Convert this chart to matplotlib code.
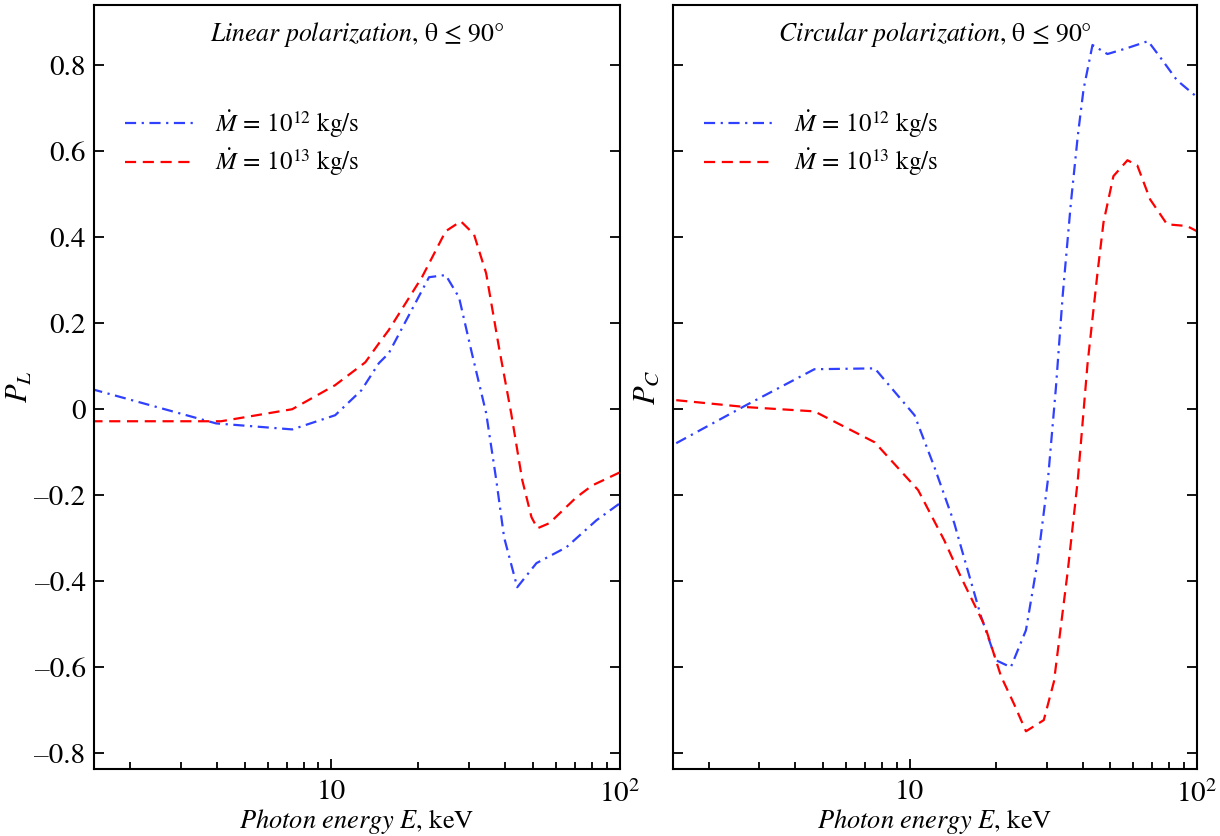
import matplotlib
matplotlib.use('Agg')
import matplotlib.pyplot as plt
import numpy as np
from matplotlib.ticker import FixedLocator, FuncFormatter, LogLocator, NullFormatter

plt.rcParams['font.family'] = ['STIXGeneral', 'DejaVu Serif']
plt.rcParams['mathtext.fontset'] = 'stix'
plt.rcParams['font.size'] = 18

# --- data ---
# linear polarization, Mdot = 1e12 kg/s
E_l12 = [1.47, 3.98, 7.31, 10.3, 12.7, 14.6, 15.8, 21.8, 24.9, 27.7, 30.7,
         34.4, 37.3, 39.7, 44.1, 51.4, 65.3, 83.1, 100]
P_l12 = [0.047, -0.033, -0.047, -0.014, 0.044, 0.107, 0.130, 0.307, 0.312,
         0.26, 0.13, -0.009, -0.165, -0.298, -0.414, -0.358, -0.321, -0.258, -0.219]
# linear polarization, Mdot = 1e13 kg/s
E_l13 = [1.47, 4.14, 7.31, 10.3, 13.1, 14.6, 15.8, 20.6, 24.9, 28.1, 31.2,
         34.4, 38.1, 42.0, 45.9, 49.4, 51.8, 57.0, 70.7, 80.4, 100]
P_l13 = [-0.028, -0.028, 0.0, 0.056, 0.109, 0.153, 0.184, 0.307, 0.414, 0.437,
         0.407, 0.316, 0.144, -0.009, -0.165, -0.251, -0.277, -0.265, -0.205,
         -0.177, -0.147]
# circular polarization, Mdot = 1e12 kg/s
E_c12 = [1.54, 2.69, 4.66, 7.56, 10.4, 12.2, 14.3, 15.1, 17.7, 20.0, 22.5,
         25.4, 27.9, 30.3, 32.3, 34.1, 36.4, 38.5, 40.3, 43.3, 48.8, 57.3,
         67.6, 74.4, 85.2, 100]
P_c12 = [-0.079, 0.009, 0.093, 0.095, -0.014, -0.135, -0.265, -0.321, -0.481,
         -0.584, -0.600, -0.514, -0.353, -0.163, 0.051, 0.265, 0.479, 0.637,
         0.744, 0.847, 0.826, 0.84, 0.856, 0.819, 0.765, 0.726]
# circular polarization, Mdot = 1e13 kg/s
E_c13 = [1.54, 2.69, 4.66, 7.56, 10.7, 13.2, 15.1, 18.3, 20.8, 23.1, 25.4,
         29.3, 31.8, 35.5, 38.5, 41.6, 45.1, 47.3, 51.2, 57.3, 62.0, 68.7,
         78.7, 92.3, 100]
P_c13 = [0.021, 0.005, -0.005, -0.077, -0.188, -0.305, -0.391, -0.505, -0.621,
         -0.686, -0.749, -0.723, -0.633, -0.377, -0.163, 0.105, 0.319, 0.435,
         0.542, 0.579, 0.567, 0.488, 0.43, 0.426, 0.414]

yticks = [-0.8, -0.6, -0.4, -0.2, 0.0, 0.2, 0.4, 0.6, 0.8]
blue = '#3040ff'
red = '#ff0000'
lab12 = r'$\dot{M}\,=\,10^{12}$ kg/s'
lab13 = r'$\dot{M}\,=\,10^{13}$ kg/s'


def yfmt(v, pos):
    if abs(v) < 1e-9:
        return '0'
    return f'{v:.1f}'.replace('-', '\u2013')


fig = plt.figure(figsize=(12.2, 8.36), dpi=100)
ax1 = fig.add_axes([0.077, 0.080, 0.431, 0.914])
ax2 = fig.add_axes([0.5516, 0.080, 0.4295, 0.914])

panels = [
    (ax1, E_l12, P_l12, E_l13, P_l13, r'$P_L$', r'$\it{Linear\ polarization}$, θ ≤ 90°'),
    (ax2, E_c12, P_c12, E_c13, P_c13, r'$P_C$', r'$\it{Circular\ polarization}$, θ ≤ 90°'),
]

for ax, e12, p12, e13, p13, ylab, title in panels:
    l1, = ax.plot(e12, p12, color=blue, lw=1.6, label=lab12)
    l1.set_dashes([5, 2.5, 1, 2.5])
    l2, = ax.plot(e13, p13, color=red, lw=1.6, label=lab13)
    l2.set_dashes([5, 3])

    ax.set_xscale('log')
    ax.set_xlim(1.5, 100)
    ax.set_ylim(-0.837, 0.94)
    ax.xaxis.set_major_locator(FixedLocator([10, 100]))
    ax.xaxis.set_major_formatter(FuncFormatter(lambda v, p: '10' if v < 50 else r'$10^2$'))
    ax.xaxis.set_minor_locator(LogLocator(base=10, subs=np.arange(2, 10)))
    ax.xaxis.set_minor_formatter(NullFormatter())
    ax.yaxis.set_major_locator(FixedLocator(yticks))
    ax.yaxis.set_major_formatter(FuncFormatter(yfmt))
    ax.tick_params(which='both', direction='in', top=False, right=True, width=1.3)
    ax.tick_params(which='major', length=7, labelsize=21)
    ax.tick_params(axis='y', pad=6)
    ax.tick_params(axis='x', pad=8)
    ax.tick_params(which='minor', length=5)
    for s in ax.spines.values():
        s.set_linewidth(1.5)

    ax.set_xlabel(r'$\it{Photon\ energy\ E}$, keV', fontsize=19, labelpad=-1)
    ax.set_ylabel(ylab, fontsize=22, labelpad=6)
    ax.text(0.5, 0.98, title, transform=ax.transAxes, ha='center', va='top', fontsize=18.5)
    ax.legend(loc='upper left', bbox_to_anchor=(0.059, 0.865), frameon=False,
              borderaxespad=0, borderpad=0,
              handlelength=2.8, handletextpad=0.8, labelspacing=0.25, fontsize=18)

ax1.yaxis.labelpad = 0
ax2.tick_params(axis='y', labelleft=False)
ax2.yaxis.labelpad = 8

fig.savefig('out.png', dpi=100)
